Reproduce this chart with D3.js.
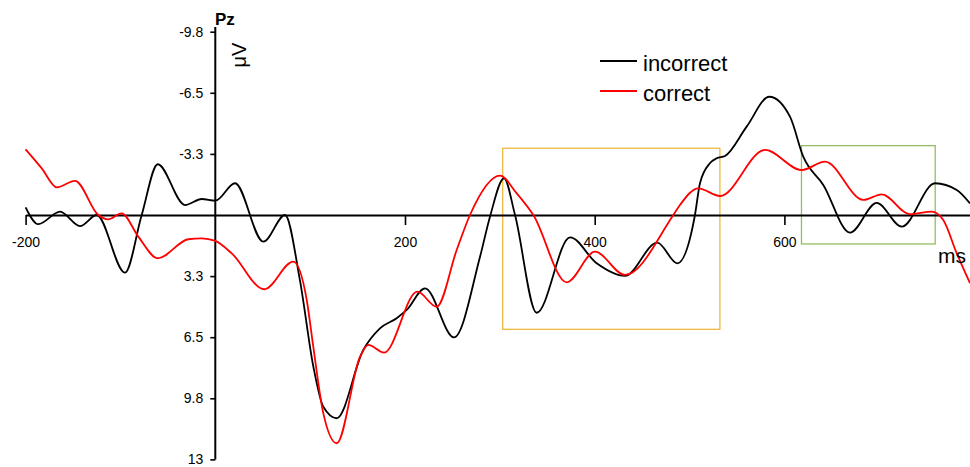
<!DOCTYPE html>
<html>
<head>
<meta charset="utf-8">
<script src="https://cdn.jsdelivr.net/npm/d3@7"></script>
<style>
  html, body { margin: 0; padding: 0; background: #fff; }
  svg { display: block; font-family: "Liberation Sans", Arial, sans-serif; }
</style>
</head>
<body>
<svg id="chart" width="970" height="467"></svg>
<script>
// ERP waveform at Pz, negative plotted upward
const incorrectMs = [-200, -186.6, -163.7, -142.6, -125.0, -95.2, -77.6, -60.7, -31.9, -14.3, 0, 20.8, 50.6, 73.5, 89.2, 103.4, 113.9, 128.0, 156.0, 173.6, 191.2, 201.8, 221.1, 251.7, 279.1, 289.6, 304.4, 316.0, 338.8, 374.0, 402.1, 431.9, 466.0, 487.1, 505.7, 511.0, 521.4, 528.6, 537.4, 560.2, 584.1, 605.9, 619.9, 641.0, 669.2, 697.3, 723.7, 758.8, 781.7, 795.7];
const incorrectUv = [-0.41, 0.49, -0.18, 0.59, 0, 3.07, 0, -2.70, -0.53, -0.85, -0.76, -1.69, 1.42, 0, 3.46, 8.07, 10.20, 10.81, 7.18, 6.03, 5.49, 5.05, 3.90, 6.51, 2.22, 0.09, -1.95, 0, 5.20, 1.19, 2.57, 3.24, 1.47, 2.57, 0, -1.69, -2.75, -3.02, -3.14, -4.70, -6.29, -5.23, -3.10, -1.60, 0.94, -0.65, 0.62, -1.69, -1.33, -0.62];

const correctMs = [-200, -183.0, -167.1, -147.9, -123.4, -112.8, -98.7, -81.2, -60.7, -28.5, -14.3, 0, 17.3, 51.7, 82.2, 96.4, 103.3, 113.9, 128.0, 152.6, 161.3, 177.9, 213.0, 233.4, 254.5, 268.5, 300.2, 317.8, 335.3, 370.5, 400.3, 431.9, 482.9, 489.9, 509.2, 532.1, 579.5, 618.2, 642.8, 683.2, 702.6, 732.4, 755.3, 767.5, 781.7, 795.7];
const correctUv = [-3.49, -2.48, -1.47, -1.82, 0, 0.23, -0.09, 1.15, 2.30, 1.29, 1.24, 1.38, 2.04, 3.95, 2.48, 4.52, 7.0, 10.55, 12.14, 7.54, 6.91, 7.32, 4.08, 4.88, 1.86, 0, -2.09, -1.15, 0, 3.58, 1.95, 3.19, 0, -0.53, -1.42, -1.01, -3.46, -2.39, -2.84, -0.80, -1.10, -0.04, -0.18, 0.27, 2.04, 3.63];

const xTicks = [-200, 200, 400, 600];
const xTickLabels = ["-200", "200", "400", "600"];
const yTicks = [-9.75, -6.5, -3.25, 3.25, 6.5, 9.75, 13];
const yTickLabels = ["-9.8", "-6.5", "-3.3", "3.3", "6.5", "9.8", "13"];

// analysis windows: [startMs, endMs, topUv, bottomUv]
const earlyWindow = [303, 532, -3.55, 6.08];
const lateWindow = [618, 759, -3.69, 1.54];

const seriesNames = ["incorrect", "correct"];
const seriesColors = ["#000000", "#ff0000"];

const svg = d3.select("#chart");
const x = d3.scaleLinear().domain([-200, 800]).range([25.6, 974.1]);
const y = d3.scaleLinear().domain([-9.75, 13]).range([31.7, 459.4]);

// analysis window boxes
[[earlyWindow, "#efb940"], [lateWindow, "#93bd62"]].forEach(([w, c]) => {
  svg.append("rect")
    .attr("x", x(w[0])).attr("y", y(w[2]))
    .attr("width", x(w[1]) - x(w[0])).attr("height", y(w[3]) - y(w[2]))
    .attr("fill", "none").attr("stroke", c).attr("stroke-width", 1.3);
});

// x axis through 0 µV
const xAxis = svg.append("g")
  .attr("transform", `translate(0,${y(0)})`)
  .call(d3.axisBottom(x).tickValues(xTicks).tickSize(10).tickSizeOuter(0).tickPadding(12)
    .tickFormat((d, i) => xTickLabels[i]));
xAxis.select(".domain").attr("stroke-width", 2);
xAxis.selectAll(".tick line").attr("stroke-width", 1.6);
xAxis.selectAll(".tick text").attr("font-size", 14).attr("fill", "#000")
  .attr("font-family", "Liberation Sans, Arial, sans-serif");

// y axis through 0 ms
const yAxis = svg.append("g")
  .attr("transform", `translate(${x(0)},0)`)
  .call(d3.axisLeft(y).tickValues(yTicks).tickSize(5).tickSizeOuter(0).tickPadding(7)
    .tickFormat((d, i) => yTickLabels[i]));
yAxis.select(".domain").remove();
yAxis.append("line").attr("x1", 0).attr("x2", 0)
  .attr("y1", y(-10)).attr("y2", y(13)).attr("stroke", "#000").attr("stroke-width", 2);
yAxis.selectAll(".tick line").attr("stroke-width", 1.6);
yAxis.selectAll(".tick text").attr("font-size", 14).attr("fill", "#000")
  .attr("font-family", "Liberation Sans, Arial, sans-serif");

// waveforms
const line = d3.line().x(d => x(d[0])).y(d => y(d[1])).curve(d3.curveMonotoneX);
const series = [
  d3.zip(incorrectMs, incorrectUv),
  d3.zip(correctMs, correctUv)
];
series.forEach((pts, i) => {
  svg.append("path").datum(pts)
    .attr("d", line)
    .attr("fill", "none")
    .attr("stroke", seriesColors[i])
    .attr("stroke-width", 1.8)
    .attr("stroke-linejoin", "round");
});

// labels
svg.append("text").attr("x", 215).attr("y", 25)
  .attr("font-size", 17).attr("font-weight", "bold").text("Pz");
svg.append("text").attr("transform", "translate(246,55) rotate(-90)")
  .attr("text-anchor", "middle").attr("font-size", 20).text("μV");
svg.append("text").attr("x", 938).attr("y", 263)
  .attr("font-size", 21).text("ms");

// legend
const legend = svg.append("g");
seriesNames.forEach((name, i) => {
  const ly = 61 + i * 30;
  legend.append("line").attr("x1", 600).attr("x2", 637)
    .attr("y1", ly).attr("y2", ly)
    .attr("stroke", seriesColors[i]).attr("stroke-width", 2);
  legend.append("text").attr("x", 643).attr("y", ly + 9.5)
    .attr("font-size", 22).attr("fill", "#000").text(name);
});
</script>
</body>
</html>
